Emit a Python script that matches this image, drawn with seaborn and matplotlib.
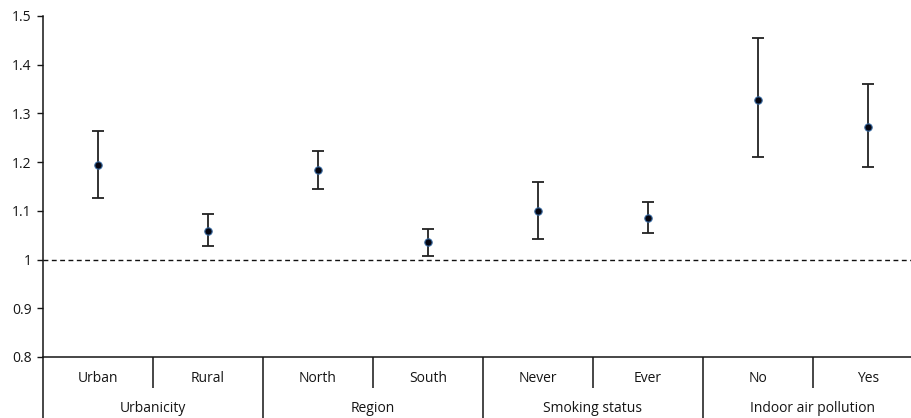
import matplotlib
matplotlib.use("Agg")
import matplotlib.pyplot as plt
import matplotlib.transforms as mtransforms
import seaborn as sns
import pandas as pd

# Odds ratios with 95% confidence intervals by subgroup
groups = ["Urbanicity", "Region", "Smoking status", "Indoor air pollution"]
categories = ["Urban", "Rural", "North", "South", "Never", "Ever", "No", "Yes"]
odds_ratio = [1.193, 1.059, 1.184, 1.035, 1.100, 1.086, 1.327, 1.272]
ci_lower = [1.127, 1.028, 1.145, 1.007, 1.043, 1.055, 1.210, 1.189]
ci_upper = [1.264, 1.093, 1.222, 1.062, 1.160, 1.119, 1.454, 1.360]
y_ticks = [0.8, 0.9, 1.0, 1.1, 1.2, 1.3, 1.4, 1.5]
y_tick_labels = ["0.8", "0.9", "1", "1.1", "1.2", "1.3", "1.4", "1.5"]

df = pd.DataFrame({
    "category": categories,
    "pos": range(len(categories)),
    "or": odds_ratio,
    "lo": ci_lower,
    "hi": ci_upper,
})

sns.set_theme(style="white")
plt.rcParams["font.family"] = ["Open Sans", "DejaVu Sans"]

fig = plt.figure(figsize=(9.12, 4.18), dpi=100)
# the plot area runs slightly past the right edge of the canvas
ax = fig.add_axes([0.047, 0.146, 0.965, 0.816])

ink = "#151515"

# confidence intervals
ax.errorbar(df["pos"], df["or"],
            yerr=[df["or"] - df["lo"], df["hi"] - df["or"]],
            fmt="none", ecolor="#222222", elinewidth=1.3, capsize=4, capthick=1.3,
            zorder=2)
# point estimates
sns.scatterplot(data=df, x="pos", y="or", ax=ax, s=28, color="#050510",
                edgecolor="#3a6aa0", linewidth=0.8, zorder=3, legend=False)

# reference line at OR = 1
ax.axhline(1.0, color="#111111", lw=1.0, ls=(0, (3.5, 2.5)), zorder=1)

ax.set_xlim(-0.5, len(categories) - 0.5)
ax.set_ylim(0.8, 1.5)
ax.set_yticks(y_ticks)
ax.set_yticklabels(y_tick_labels)
ax.set_xticks([])
ax.set_xlabel("")
ax.set_ylabel("")
ax.tick_params(axis="y", which="both", left=True, length=4, width=1,
               color=ink, labelsize=10, labelcolor=ink, pad=4)

for side in ["top", "right"]:
    ax.spines[side].set_visible(False)
for side in ["left", "bottom"]:
    ax.spines[side].set_color(ink)
    ax.spines[side].set_linewidth(1.1)

# two-level category axis below the plot
trans = mtransforms.blended_transform_factory(ax.transData, ax.transAxes)
inner_y = -0.062
outer_y = -0.150
short_end = -0.091
long_end = -0.185

for i, cat in enumerate(categories):
    ax.text(i, inner_y, cat, transform=trans, ha="center", va="center",
            fontsize=10, color=ink)

for g, name in enumerate(groups):
    ax.text(2 * g + 0.5, outer_y, name, transform=trans, ha="center",
            va="center", fontsize=10, color=ink)

# dividers: short between categories, long between groups
for k in range(len(categories)):
    x = k - 0.5
    end = long_end if k % 2 == 0 else short_end
    ax.plot([x, x], [0, end], transform=trans, color=ink, lw=1.1,
            clip_on=False, solid_capstyle="butt")

fig.savefig("out.png", dpi=100)
